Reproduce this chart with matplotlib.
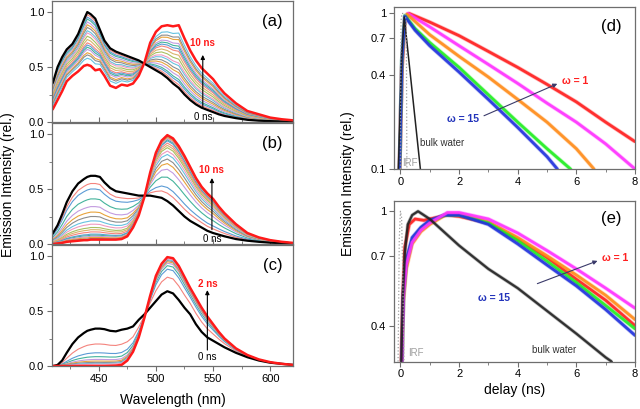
import matplotlib
matplotlib.use("Agg")
import matplotlib.pyplot as plt
import numpy as np
from matplotlib.ticker import FixedLocator, MultipleLocator, NullLocator

plt.rcParams["font.family"] = ["Liberation Sans", "DejaVu Sans"]

# ---- spectra (left column) ----
WAVELENGTH = [410, 414, 418, 422, 427, 432, 437, 440, 443, 447, 451, 455, 460, 465, 470,
              475, 480, 485, 490, 495, 500, 505, 510, 515, 520, 525, 530, 535, 540, 545,
              550, 555, 560, 570, 580, 590, 600, 610, 620]

A_START = [0.36, 0.50, 0.59, 0.66, 0.71, 0.80, 0.93, 1.00, 0.98, 0.94, 0.84, 0.74, 0.67, 0.64, 0.62,
           0.60, 0.58, 0.56, 0.53, 0.50, 0.47, 0.44, 0.40, 0.35, 0.31, 0.25, 0.20, 0.16, 0.13, 0.11,
           0.09, 0.07, 0.055, 0.035, 0.02, 0.012, 0.008, 0.004, 0.0]
A_END = [0.12, 0.20, 0.28, 0.37, 0.42, 0.46, 0.51, 0.52, 0.51, 0.47, 0.48, 0.42, 0.33, 0.31, 0.34,
         0.33, 0.35, 0.42, 0.54, 0.72, 0.82, 0.87, 0.88, 0.87, 0.88, 0.76, 0.65, 0.56, 0.49, 0.44,
         0.39, 0.32, 0.26, 0.17, 0.10, 0.07, 0.04, 0.025, 0.015]
# heights of the intermediate delays at 440 nm
A_STEPS = [0.976, 0.954, 0.936, 0.91, 0.884, 0.86, 0.83, 0.81, 0.78, 0.75, 0.72, 0.70, 0.68,
           0.66, 0.63, 0.61, 0.58]

B_START = [0.10, 0.17, 0.27, 0.38, 0.48, 0.55, 0.59, 0.61, 0.62, 0.62, 0.61, 0.56, 0.51, 0.48, 0.47,
           0.46, 0.45, 0.44, 0.44, 0.44, 0.43, 0.42, 0.39, 0.35, 0.30, 0.25, 0.21, 0.18, 0.15, 0.12,
           0.10, 0.085, 0.07, 0.045, 0.03, 0.02, 0.012, 0.008, 0.005]
B_END = [0.0, 0.005, 0.01, 0.02, 0.025, 0.03, 0.035, 0.035, 0.04, 0.04, 0.04, 0.04, 0.04, 0.04, 0.045,
         0.07, 0.15, 0.26, 0.43, 0.65, 0.83, 0.94, 0.99, 0.96, 0.89, 0.80, 0.70, 0.60, 0.52, 0.46,
         0.41, 0.34, 0.28, 0.18, 0.10, 0.06, 0.035, 0.02, 0.01]
# heights at 447 nm
B_STEPS = [0.55, 0.50, 0.41, 0.34, 0.29, 0.25, 0.21, 0.18, 0.15, 0.13, 0.11, 0.09, 0.08, 0.07,
           0.06, 0.05]

C_START = [0.0, 0.01, 0.05, 0.12, 0.20, 0.26, 0.30, 0.32, 0.33, 0.34, 0.34, 0.335, 0.32, 0.315, 0.33,
           0.34, 0.36, 0.42, 0.47, 0.53, 0.59, 0.65, 0.68, 0.66, 0.60, 0.53, 0.47, 0.38, 0.31, 0.26,
           0.23, 0.20, 0.17, 0.12, 0.08, 0.05, 0.03, 0.02, 0.01]
C_END = [0.0, 0.0, 0.0, 0.0, 0.0, 0.0, 0.0, 0.0, 0.0, 0.0, 0.0, 0.0, 0.002, 0.004, 0.01,
         0.05, 0.13, 0.26, 0.44, 0.64, 0.82, 0.93, 0.99, 0.98, 0.91, 0.81, 0.71, 0.62, 0.53, 0.45,
         0.38, 0.31, 0.25, 0.16, 0.10, 0.06, 0.035, 0.02, 0.01]
C_STEPS = [0.20, 0.12, 0.085, 0.06, 0.045, 0.033, 0.024, 0.016]

STEP_COLORS = ["#f4837d", "#5b9bd5", "#44b39c", "#c39be0", "#e8a33c", "#8c8c8c",
               "#66c2e0", "#f09ac0", "#a8c060", "#d9b36a"]

# ---- decays (right column), delay in ns ----
D_RED_T = [-0.03, 0.05, 0.15, 0.3, 1, 2, 3, 4, 5, 6, 7, 8]
D_RED_Y = [0.1, 0.45, 0.9, 1.0, 0.88, 0.72, 0.57, 0.45, 0.35, 0.27, 0.20, 0.15]
D_MAG_T = [-0.03, 0.05, 0.15, 0.25, 1, 2, 3, 4, 5, 6, 7, 8]
D_MAG_Y = [0.1, 0.45, 0.9, 1.0, 0.82, 0.62, 0.47, 0.355, 0.265, 0.20, 0.145, 0.10]
D_ORA_T = [-0.03, 0.05, 0.15, 0.22, 1, 2, 3, 4, 5, 6, 6.6]
D_ORA_Y = [0.1, 0.45, 0.92, 0.99, 0.73, 0.53, 0.39, 0.28, 0.20, 0.135, 0.1]
D_GRE_T = [-0.03, 0.05, 0.15, 0.5, 1, 2, 3, 4, 5, 5.8]
D_GRE_Y = [0.1, 0.5, 0.97, 0.80, 0.65, 0.45, 0.30, 0.20, 0.135, 0.1]
D_BLU_T = [-0.03, 0.05, 0.15, 0.5, 1, 2, 3, 4, 5, 5.35]
D_BLU_Y = [0.1, 0.5, 0.96, 0.78, 0.62, 0.42, 0.28, 0.185, 0.12, 0.1]
D_BULK_T = [-0.07, 0.05, 0.13, 0.68]
D_BULK_Y = [0.1, 0.55, 0.95, 0.1]
D_IRF_T = [0.0, 0.02, 0.05, 0.15, 0.2, 0.22]
D_IRF_Y = [0.1, 0.9, 1.0, 1.0, 0.9, 0.1]

E_RED_T = [0.03, 0.08, 0.15, 0.3, 0.5, 0.8, 1.2, 1.6, 2, 3, 4, 5, 6, 7, 8]
E_RED_Y = [0.3, 0.5, 0.75, 0.9, 0.94, 0.93, 0.95, 0.97, 0.96, 0.91, 0.80, 0.69, 0.58, 0.49, 0.40]
E_MAG_T = [0.05, 0.1, 0.2, 0.4, 0.7, 1, 1.6, 2, 3, 4, 5, 6, 7, 8]
E_MAG_Y = [0.3, 0.5, 0.65, 0.78, 0.86, 0.91, 0.99, 0.99, 0.94, 0.84, 0.73, 0.63, 0.54, 0.46]
E_ORA_T = [0.05, 0.1, 0.2, 0.4, 0.7, 1, 1.6, 2, 3, 4, 5, 6, 7, 8]
E_ORA_Y = [0.3, 0.48, 0.63, 0.77, 0.85, 0.90, 0.98, 0.98, 0.92, 0.81, 0.70, 0.60, 0.51, 0.42]
E_GRE_T = [0.05, 0.1, 0.2, 0.4, 0.7, 1, 1.5, 2, 3, 4, 5, 6, 7, 8]
E_GRE_Y = [0.3, 0.5, 0.66, 0.79, 0.87, 0.92, 0.97, 0.97, 0.91, 0.79, 0.67, 0.565, 0.47, 0.39]
E_BLU_T = [0.05, 0.1, 0.2, 0.4, 0.7, 1, 1.5, 2, 3, 4, 5, 6, 7, 8]
E_BLU_Y = [0.3, 0.52, 0.68, 0.81, 0.88, 0.93, 0.97, 0.97, 0.90, 0.77, 0.65, 0.55, 0.455, 0.37]
E_BULK_T = [0.03, 0.08, 0.15, 0.25, 0.4, 0.6, 1.0, 2, 3, 4, 5, 6, 7, 7.2]
E_BULK_Y = [0.3, 0.5, 0.72, 0.9, 0.97, 1.0, 0.94, 0.76, 0.63, 0.54, 0.45, 0.375, 0.31, 0.30]
E_IRF_T = [-0.08, -0.04, 0.0, 0.04, 0.08, 0.12]
E_IRF_Y = [0.3, 0.8, 1.0, 0.95, 0.6, 0.3]

SPINE = "#6e6e6e"


def style_axes(ax):
    for s in ax.spines.values():
        s.set_color(SPINE)
        s.set_linewidth(0.9)
    ax.tick_params(which="both", colors=SPINE, labelcolor="black", labelsize=8, pad=2)
    ax.tick_params(which="major", length=3.5)
    ax.tick_params(which="minor", length=2)


def spectra_panel(ax, start, end, steps, ref, tag, top_label, arrow_x, arrow_y, label_y, zero_y,
                  show_x):
    wl = np.array(WAVELENGTH)
    start = np.array(start)
    end = np.array(end)
    for i, v in enumerate(steps):
        frac = (start[ref] - v) / (start[ref] - end[ref])
        ax.plot(wl, start + frac * (end - start), color=STEP_COLORS[i % len(STEP_COLORS)], lw=0.8)
    ax.plot(wl, start, color="black", lw=1.6)
    ax.plot(wl, end, color="#ff1a1a", lw=1.8)
    ax.set_xlim(409, 620)
    ax.set_ylim(0, 1.1)
    ax.yaxis.set_major_locator(FixedLocator([0, 0.5, 1.0]))
    ax.yaxis.set_major_formatter(plt.FixedFormatter(["0.0", "0.5", "1.0"]))
    ax.yaxis.set_minor_locator(MultipleLocator(0.25))
    ax.xaxis.set_major_locator(MultipleLocator(50))
    ax.xaxis.set_minor_locator(MultipleLocator(25))
    style_axes(ax)
    if not show_x:
        ax.tick_params(axis="x", which="both", labelbottom=False, direction="in")
    ax.annotate("", xy=(arrow_x, arrow_y[1]), xytext=(arrow_x, arrow_y[0]),
                arrowprops=dict(arrowstyle="-|>", color="black", lw=0.8, mutation_scale=6,
                                shrinkA=0, shrinkB=0))
    ax.text(arrow_x, label_y, top_label, color="#ff1a1a", fontsize=7, fontweight="bold",
            ha="center", va="center")
    ax.text(arrow_x, zero_y, "0 ns", color="black", fontsize=7, ha="center", va="center")
    ax.text(602, 0.91, tag, fontsize=12, ha="center", va="center")


def decay_line(ax, t, y, color, lw=2.0):
    ax.plot(t, y, color=color, lw=lw + 1.0, alpha=0.3, solid_capstyle="butt")
    ax.plot(t, y, color=color, lw=lw, alpha=0.9)


def decay_axes(ax, ylim, yticks, ylabels):
    ax.set_yscale("log")
    ax.set_xlim(-0.22, 8.0)
    ax.set_ylim(*ylim)
    ax.yaxis.set_major_locator(FixedLocator(yticks))
    ax.yaxis.set_major_formatter(plt.FixedFormatter(ylabels))
    ax.yaxis.set_minor_locator(NullLocator())
    ax.xaxis.set_major_locator(MultipleLocator(2))
    ax.xaxis.set_minor_locator(MultipleLocator(1))
    style_axes(ax)


def main():
    fig = plt.figure(figsize=(6.4, 4.09), dpi=100)

    left, width = 0.081, 0.377
    h = 0.2958
    ax_a = fig.add_axes([left, 0.7017, width, h])
    ax_b = fig.add_axes([left, 0.4034, width, h])
    ax_c = fig.add_axes([left, 0.1051, width, h])

    spectra_panel(ax_a, A_START, A_END, A_STEPS, 7, "(a)", "10 ns", 541, (0.13, 0.61), 0.72, 0.045,
                  False)
    spectra_panel(ax_b, B_START, B_END, B_STEPS, 9, "(b)", "10 ns", 549, (0.13, 0.60), 0.67, 0.05,
                  False)
    spectra_panel(ax_c, C_START, C_END, C_STEPS, 9, "(c)", "2 ns", 545, (0.145, 0.69), 0.75, 0.08,
                  True)
    ax_c.set_xlabel("Wavelength (nm)", fontsize=10, labelpad=7)

    rl, rw = 0.6156, 0.3766
    ax_d = fig.add_axes([rl, 0.5868, rw, 0.396])
    ax_e = fig.add_axes([rl, 0.1161, rw, 0.3936])

    # (d)
    decay_line(ax_d, D_RED_T, D_RED_Y, "#ff2020")
    decay_line(ax_d, D_MAG_T, D_MAG_Y, "#ff33ff")
    decay_line(ax_d, D_ORA_T, D_ORA_Y, "#ff8c1a")
    decay_line(ax_d, D_GRE_T, D_GRE_Y, "#22ee22")
    decay_line(ax_d, D_BLU_T, D_BLU_Y, "#2233dd")
    ax_d.plot(D_BULK_T, D_BULK_Y, color="#222222", lw=1.1)
    ax_d.plot(D_IRF_T, D_IRF_Y, color="#a0a0a0", lw=0.9, ls=":")
    decay_axes(ax_d, (0.1, 1.1), [0.1, 0.4, 0.7, 1], ["0.1", "0.4", "0.7", "1"])
    ax_d.annotate("", xy=(5.35, 0.353), xytext=(2.85, 0.22),
                  arrowprops=dict(arrowstyle="-|>", color="#3a3a6a", lw=0.8, mutation_scale=6,
                                  shrinkA=0, shrinkB=0))
    ax_d.text(5.97, 0.37, "ω = 1", color="#ff2020", fontsize=7.5, fontweight="bold",
              ha="center", va="center")
    ax_d.text(2.14, 0.21, "ω = 15", color="#2233bb", fontsize=7.5, fontweight="bold",
              ha="center", va="center")
    ax_d.text(1.42, 0.147, "bulk water", color="#333333", fontsize=7, ha="center", va="center")
    ax_d.text(0.32, 0.109, "IRF", color="#a0a0a0", fontsize=7, ha="center", va="center")
    ax_d.text(7.2, 0.82, "(d)", fontsize=12, ha="center", va="center")

    # (e)
    decay_line(ax_e, E_RED_T, E_RED_Y, "#ff2020")
    decay_line(ax_e, E_ORA_T, E_ORA_Y, "#ff8c1a")
    decay_line(ax_e, E_GRE_T, E_GRE_Y, "#22ee22")
    decay_line(ax_e, E_BLU_T, E_BLU_Y, "#2233dd")
    decay_line(ax_e, E_MAG_T, E_MAG_Y, "#ff33ff")
    decay_line(ax_e, E_BULK_T, E_BULK_Y, "#222222", lw=1.6)
    ax_e.plot(E_IRF_T, E_IRF_Y, color="#a0a0a0", lw=0.9, ls=":")
    decay_axes(ax_e, (0.3, 1.09), [0.4, 0.7, 1], ["0.4", "0.7", "1"])
    ax_e.annotate("", xy=(6.72, 0.672), xytext=(4.67, 0.56),
                  arrowprops=dict(arrowstyle="-|>", color="#3a3a6a", lw=0.8, mutation_scale=6,
                                  shrinkA=0, shrinkB=0))
    ax_e.text(7.33, 0.69, "ω = 1", color="#ff2020", fontsize=7.5, fontweight="bold",
              ha="center", va="center")
    ax_e.text(3.2, 0.50, "ω = 15", color="#2233bb", fontsize=7.5, fontweight="bold",
              ha="center", va="center")
    ax_e.text(5.25, 0.33, "bulk water", color="#333333", fontsize=7, ha="center", va="center")
    ax_e.text(0.53, 0.32, "IRF", color="#a0a0a0", fontsize=7, ha="center", va="center")
    ax_e.text(7.2, 0.945, "(e)", fontsize=12, ha="center", va="center")
    ax_e.set_xlabel("delay (ns)", fontsize=10, labelpad=3)

    fig.text(0.012, 1 - 185 / 409, "Emission Intensity (rel.)", rotation=90, fontsize=10,
             ha="center", va="center")
    fig.text(0.544, 1 - 184 / 409, "Emission Intensity (rel.)", rotation=90, fontsize=10,
             ha="center", va="center")

    fig.savefig("out.png", dpi=100)


if __name__ == "__main__":
    main()
